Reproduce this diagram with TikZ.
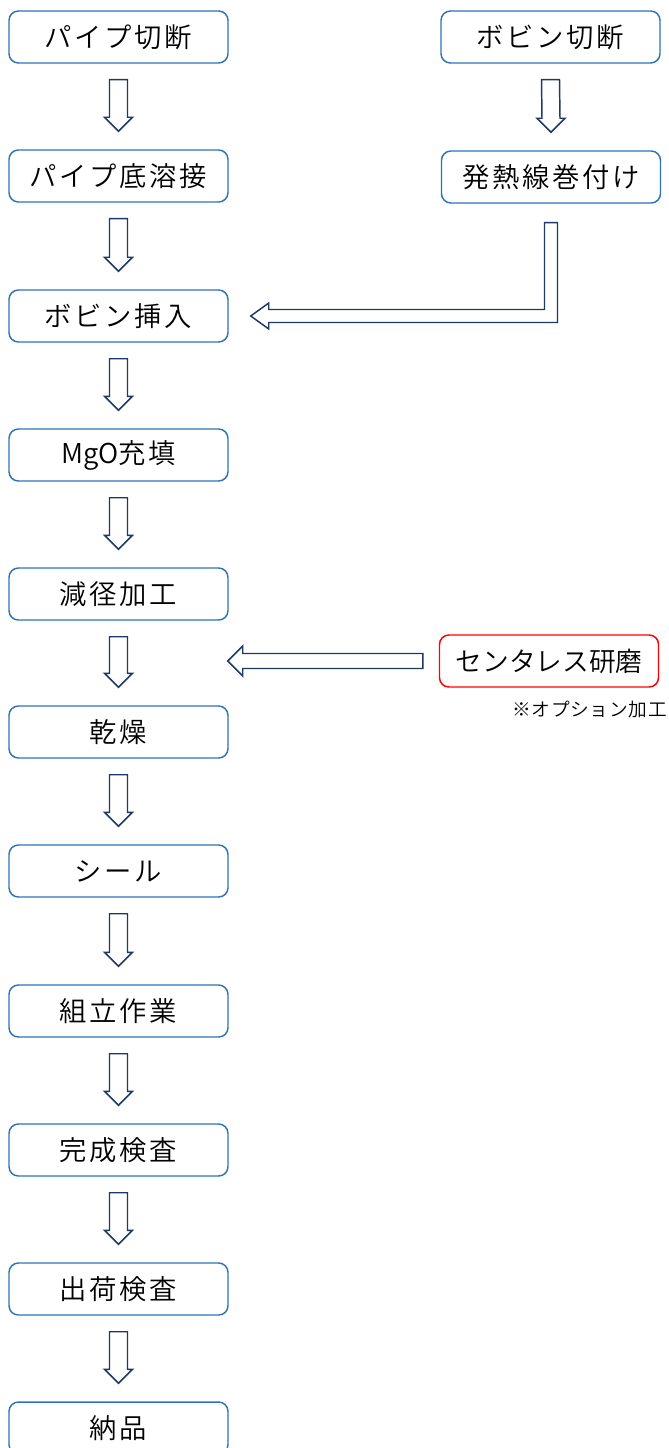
\documentclass[tikz,border=0pt]{standalone}
\usepackage{fontspec}
\setmainfont{Noto Sans CJK JP}[UprightFont={* DemiLight}, LetterSpace=10]
\newfontfamily\notefont{Noto Sans CJK JP}[UprightFont={* DemiLight}, LetterSpace=4]
\newfontfamily\redfont{Noto Sans CJK JP}[UprightFont={* DemiLight}, LetterSpace=0]
\usetikzlibrary{calc}
\definecolor{boxblue}{HTML}{2E75B6}
\definecolor{navy}{HTML}{1F3864}
\definecolor{optred}{HTML}{FF0000}
\tikzset{
  stepbox/.style={draw=boxblue, line width=1.1pt, rounded corners=7pt, fill=white,
    minimum width=219*0.75pt, minimum height=52*0.75pt, inner sep=0pt,
    font=\fontsize{20.5pt}{24pt}\selectfont},
  redbox/.style={stepbox, draw=optred, font=\redfont\fontsize{20pt}{24pt}\selectfont},
  blk/.style={draw=navy, line width=1.1pt, fill=white, line join=miter},
  note/.style={font=\notefont\fontsize{14pt}{16pt}\selectfont, inner sep=0pt}
}
\newcommand\downarr[2]{%
  \draw[blk] ($(#1.south)+(-9,16)$) -- ($(#1.south)+(9,16)$) -- ($(#2.north)+(9,-32)$)
    -- ($(#2.north)+(14,-32)$) -- ($(#2.north)+(0,-18)$) -- ($(#2.north)+(-14,-32)$)
    -- ($(#2.north)+(-9,-32)$) -- cycle;}
\begin{document}
\begin{tikzpicture}[x=0.75pt, y=-0.75pt]
\clip (0,0) rectangle (668,1448);
\fill[white] (0,0) rectangle (668,1448);
% left column
\node[stepbox] (p1) at (118.5,37) {パイプ切断};
\node[stepbox] (p2) at (118.5,176) {パイプ底溶接};
\node[stepbox] (p3) at (118.5,316) {ボビン挿入};
\node[stepbox] (p4) at (118.5,455) {{\redfont MgO}充填};
\node[stepbox] (p5) at (118.5,594) {減径加工};
\node[stepbox] (p6) at (118.5,732) {乾燥};
\node[stepbox] (p7) at (118.5,871) {シール};
\node[stepbox] (p8) at (118.5,1011) {組立作業};
\node[stepbox] (p9) at (118.5,1150) {完成検査};
\node[stepbox] (p10) at (118.5,1289) {出荷検査};
\node[stepbox] (p11) at (118.5,1428) {納品};
% right column
\node[stepbox] (b1) at (550.5,37) {ボビン切断};
\node[stepbox] (b2) at (551,177) {発熱線巻付け};
\node[redbox] (c1) at (549,661) {センタレス研磨};
\node[note, anchor=east] (n1) at (667,710) {※オプション加工};
% down arrows
\downarr{p1}{p2}
\downarr{p2}{p3}
\downarr{p3}{p4}
\downarr{p4}{p5}
\downarr{p5}{p6}
\downarr{p6}{p7}
\downarr{p7}{p8}
\downarr{p8}{p9}
\downarr{p9}{p10}
\downarr{p10}{p11}
\downarr{b1}{b2}
% bent arrow from b2 to p3
\draw[blk] ($(b2.south)+(-6.5,19)$) -- ($(b2.south)+(6.5,19)$)
  -- ($(b2.south |- p3.east)+(6.5,6.5)$) -- ($(p3.east)+(40,6.5)$)
  -- ($(p3.east)+(40,13)$) -- ($(p3.east)+(22,0)$) -- ($(p3.east)+(40,-13)$)
  -- ($(p3.east)+(40,-6.5)$) -- ($(b2.south |- p3.east)+(-6.5,-6.5)$) -- cycle;
% left arrow from c1
\draw[blk] ($(c1.west)+(-16,-7.5)$) -- ($(c1.west)+(-16,7.5)$)
  -- ($(p5.east |- c1.west)+(14,7.5)$) -- ($(p5.east |- c1.west)+(14,15)$)
  -- ($(p5.east |- c1.west)+(-1,0)$) -- ($(p5.east |- c1.west)+(14,-15)$)
  -- ($(p5.east |- c1.west)+(14,-7.5)$) -- cycle;
\end{tikzpicture}
\end{document}
